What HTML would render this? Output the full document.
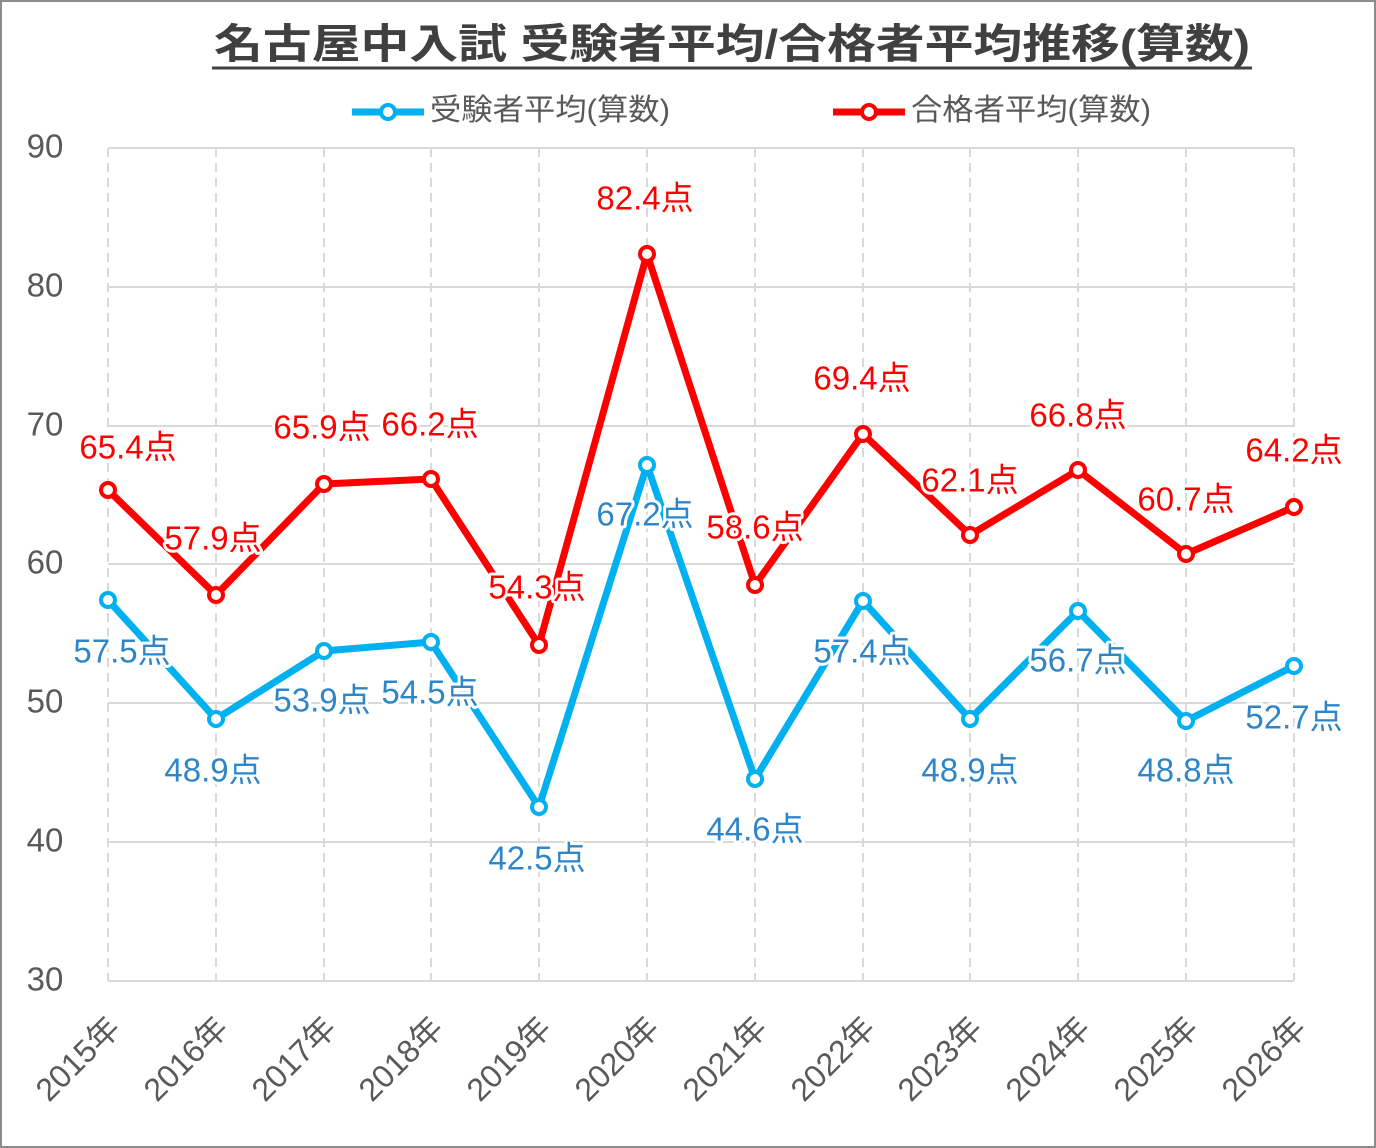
<!DOCTYPE html>
<html><head><meta charset="utf-8"><style>
html,body{margin:0;padding:0;background:#fff}
svg{display:block}
text{font-family:"Liberation Sans","Noto Sans CJK JP",sans-serif}
.r{fill:#ff0000;font-size:33px;text-anchor:middle;dominant-baseline:middle;stroke:#fff;stroke-width:6px;paint-order:stroke;stroke-linejoin:round}
.b{fill:#2e86c8;font-size:33px;text-anchor:middle;dominant-baseline:middle;stroke:#fff;stroke-width:6px;paint-order:stroke;stroke-linejoin:round}
.y{fill:#595959;font-size:33px;text-anchor:middle;dominant-baseline:middle}
.x{fill:#595959;font-size:32px;text-anchor:end}
</style></head><body>
<svg width="1376" height="1148" viewBox="0 0 1376 1148" xmlns="http://www.w3.org/2000/svg">
<rect x="1" y="1" width="1374" height="1146" fill="#fff" stroke="#8c8c8c" stroke-width="2"/>
<text x="214" y="47" dominant-baseline="middle" font-size="41" font-weight="bold" fill="#404040" textLength="1036" lengthAdjust="spacingAndGlyphs">名古屋中入試 受験者平均/合格者平均推移(算数)</text>
<line x1="212" y1="68" x2="1252" y2="68" stroke="#404040" stroke-width="3"/>
<line x1="352" y1="112" x2="424" y2="112" stroke="#00b0f0" stroke-width="7"/>
<circle cx="388" cy="112" r="7" fill="#fff" stroke="#00b0f0" stroke-width="4"/>
<text x="430" y="112" dominant-baseline="middle" font-size="30" fill="#595959" textLength="240" lengthAdjust="spacingAndGlyphs">受験者平均(算数)</text>
<line x1="833" y1="112" x2="905" y2="112" stroke="#ff0000" stroke-width="7"/>
<circle cx="869" cy="112" r="7" fill="#fff" stroke="#ff0000" stroke-width="4"/>
<text x="911" y="112" dominant-baseline="middle" font-size="30" fill="#595959" textLength="240" lengthAdjust="spacingAndGlyphs">合格者平均(算数)</text>
<g stroke="#d9d9d9" stroke-width="2">
<line x1="108" y1="148" x2="1294" y2="148"/><line x1="108" y1="287" x2="1294" y2="287"/>
<line x1="108" y1="426" x2="1294" y2="426"/><line x1="108" y1="564" x2="1294" y2="564"/>
<line x1="108" y1="703" x2="1294" y2="703"/><line x1="108" y1="842" x2="1294" y2="842"/>
<line x1="108" y1="981" x2="1294" y2="981"/>
</g>
<g stroke="#d9d9d9" stroke-width="2" stroke-dasharray="9,6">
<line x1="108" y1="148" x2="108" y2="981"/><line x1="216" y1="148" x2="216" y2="981"/>
<line x1="324" y1="148" x2="324" y2="981"/><line x1="431" y1="148" x2="431" y2="981"/>
<line x1="539" y1="148" x2="539" y2="981"/><line x1="647" y1="148" x2="647" y2="981"/>
<line x1="755" y1="148" x2="755" y2="981"/><line x1="863" y1="148" x2="863" y2="981"/>
<line x1="970" y1="148" x2="970" y2="981"/><line x1="1078" y1="148" x2="1078" y2="981"/>
<line x1="1186" y1="148" x2="1186" y2="981"/><line x1="1294" y1="148" x2="1294" y2="981"/>
</g>
<text class="y" x="45" y="149">90</text><text class="y" x="45" y="288">80</text>
<text class="y" x="45" y="427">70</text><text class="y" x="45" y="565">60</text>
<text class="y" x="45" y="704">50</text><text class="y" x="45" y="843">40</text>
<text class="y" x="45" y="982">30</text>
<g>
<text class="x" transform="translate(122,1030) rotate(-45)">2015年</text>
<text class="x" transform="translate(230,1030) rotate(-45)">2016年</text>
<text class="x" transform="translate(338,1030) rotate(-45)">2017年</text>
<text class="x" transform="translate(445,1030) rotate(-45)">2018年</text>
<text class="x" transform="translate(553,1030) rotate(-45)">2019年</text>
<text class="x" transform="translate(661,1030) rotate(-45)">2020年</text>
<text class="x" transform="translate(769,1030) rotate(-45)">2021年</text>
<text class="x" transform="translate(877,1030) rotate(-45)">2022年</text>
<text class="x" transform="translate(984,1030) rotate(-45)">2023年</text>
<text class="x" transform="translate(1092,1030) rotate(-45)">2024年</text>
<text class="x" transform="translate(1200,1030) rotate(-45)">2025年</text>
<text class="x" transform="translate(1308,1030) rotate(-45)">2026年</text>
</g>
<polyline fill="none" stroke="#ff0000" stroke-width="7" stroke-linejoin="round" points="108,490 216,595 324,484 431,479 539,645 647,254 755,585 863,434 970,535 1078,470 1186,554 1294,507"/>
<polyline fill="none" stroke="#00b0f0" stroke-width="7" stroke-linejoin="round" points="108,600 216,719 324,651 431,642 539,807 647,465 755,779 863,601 970,719 1078,611 1186,721 1294,666"/>
<g fill="#fff" stroke="#ff0000" stroke-width="4">
<circle cx="108" cy="490" r="7"/><circle cx="216" cy="595" r="7"/><circle cx="324" cy="484" r="7"/><circle cx="431" cy="479" r="7"/><circle cx="539" cy="645" r="7"/><circle cx="647" cy="254" r="7"/><circle cx="755" cy="585" r="7"/><circle cx="863" cy="434" r="7"/><circle cx="970" cy="535" r="7"/><circle cx="1078" cy="470" r="7"/><circle cx="1186" cy="554" r="7"/><circle cx="1294" cy="507" r="7"/>
</g>
<g fill="#fff" stroke="#00b0f0" stroke-width="4">
<circle cx="108" cy="600" r="7"/><circle cx="216" cy="719" r="7"/><circle cx="324" cy="651" r="7"/><circle cx="431" cy="642" r="7"/><circle cx="539" cy="807" r="7"/><circle cx="647" cy="465" r="7"/><circle cx="755" cy="779" r="7"/><circle cx="863" cy="601" r="7"/><circle cx="970" cy="719" r="7"/><circle cx="1078" cy="611" r="7"/><circle cx="1186" cy="721" r="7"/><circle cx="1294" cy="666" r="7"/>
</g>
<text class="r" x="128" y="450">65.4点</text><text class="r" x="213" y="541">57.9点</text>
<text class="r" x="322" y="430">65.9点</text><text class="r" x="430" y="427">66.2点</text>
<text class="r" x="537" y="590">54.3点</text><text class="r" x="645" y="201">82.4点</text>
<text class="r" x="755" y="530">58.6点</text><text class="r" x="862" y="381">69.4点</text>
<text class="r" x="970" y="483">62.1点</text><text class="r" x="1078" y="418">66.8点</text>
<text class="r" x="1186" y="502">60.7点</text><text class="r" x="1294" y="453">64.2点</text>
<text class="b" x="122" y="654">57.5点</text><text class="b" x="213" y="773">48.9点</text>
<text class="b" x="322" y="703">53.9点</text><text class="b" x="430" y="695">54.5点</text>
<text class="b" x="537" y="861">42.5点</text><text class="b" x="645" y="517">67.2点</text>
<text class="b" x="755" y="832">44.6点</text><text class="b" x="862" y="654">57.4点</text>
<text class="b" x="970" y="773">48.9点</text><text class="b" x="1078" y="663">56.7点</text>
<text class="b" x="1186" y="773">48.8点</text><text class="b" x="1294" y="720">52.7点</text>
</svg>
</body></html>
